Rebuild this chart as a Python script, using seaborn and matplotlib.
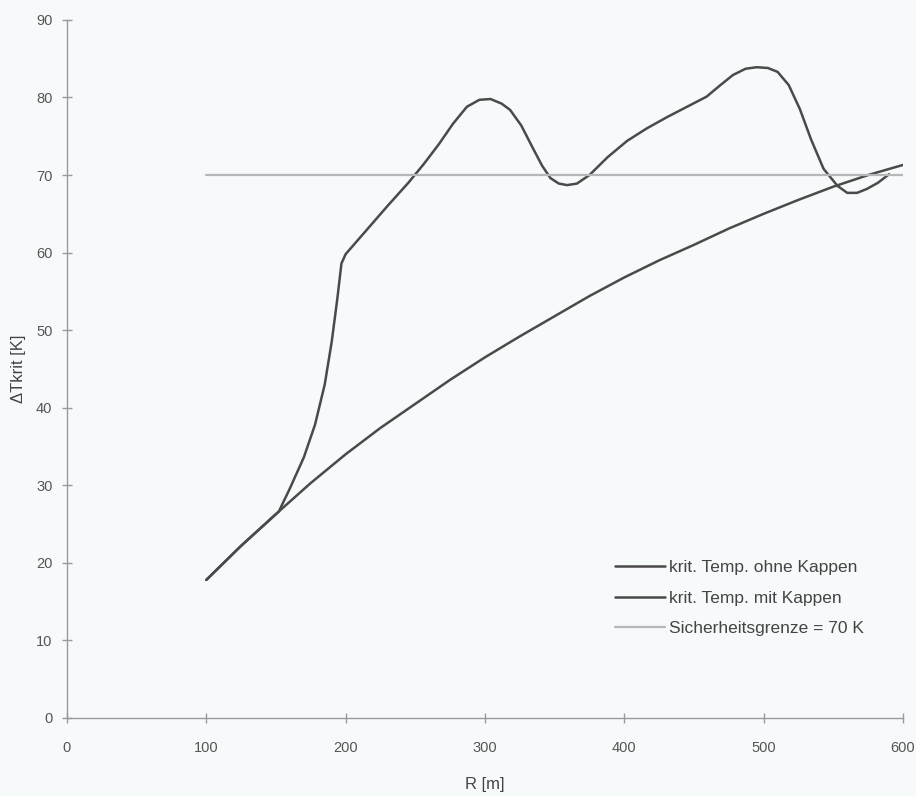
import matplotlib
matplotlib.use("Agg")
import matplotlib.pyplot as plt
import seaborn as sns
import pandas as pd

# --- data ---
r_ohne = [100, 125, 150, 175, 200, 225, 250, 275, 300, 325, 350, 375, 400,
          425, 450, 475, 500, 525, 550, 575, 600]
t_ohne = [17.8, 22.2, 26.3, 30.3, 34.0, 37.4, 40.5, 43.6, 46.5, 49.2, 51.8,
          54.4, 56.8, 59.0, 61.0, 63.1, 65.0, 66.8, 68.5, 70.0, 71.3]

r_mit = [100, 125, 152, 160, 170, 178, 185, 190, 194, 197, 200, 215, 230,
         245, 256, 267, 277, 287, 296, 304, 312, 318, 326, 334, 341, 347,
         353, 359, 366, 375, 388, 402, 416, 431, 445, 459, 469, 478, 487,
         495, 503, 510, 518, 526, 534, 543, 553, 560, 567, 574, 582, 590]
t_mit = [17.8, 22.2, 26.6, 29.6, 33.6, 37.8, 43.0, 48.5, 54.0, 58.6, 59.8,
         62.9, 66.0, 69.0, 71.4, 74.0, 76.6, 78.8, 79.7, 79.8, 79.2, 78.4,
         76.4, 73.6, 71.2, 69.6, 68.9, 68.7, 68.9, 70.0, 72.3, 74.4, 76.0,
         77.5, 78.8, 80.1, 81.6, 82.9, 83.7, 83.9, 83.8, 83.3, 81.6, 78.5,
         74.6, 70.8, 68.6, 67.7, 67.7, 68.2, 69.0, 70.1]

grenze_r = [100, 600]
grenze_t = [70, 70]

labels = ["krit. Temp. ohne Kappen", "krit. Temp. mit Kappen",
          "Sicherheitsgrenze = 70 K"]
xticks = [0, 100, 200, 300, 400, 500, 600]
yticks = [0, 10, 20, 30, 40, 50, 60, 70, 80, 90]

df_ohne = pd.DataFrame({"R": r_ohne, "T": t_ohne})
df_mit = pd.DataFrame({"R": r_mit, "T": t_mit})
df_gr = pd.DataFrame({"R": grenze_r, "T": grenze_t})

sns.set_style("white")
plt.rcParams["font.family"] = ["Liberation Sans", "DejaVu Sans"]

bg = "#f7fafa"
fig = plt.figure(figsize=(9.16, 7.96), dpi=100, facecolor=bg)
ax = fig.add_axes([0.0731, 0.098, 0.9127, 0.877])
ax.set_facecolor(bg)

dark = "#4a4a4a"
light = "#b4b8b8"
sns.lineplot(data=df_ohne, x="R", y="T", ax=ax, color=dark, lw=1.8,
             label=labels[0], sort=False)
sns.lineplot(data=df_mit, x="R", y="T", ax=ax, color=dark, lw=1.8,
             label=labels[1], sort=False)
sns.lineplot(data=df_gr, x="R", y="T", ax=ax, color=light, lw=1.6,
             label=labels[2], sort=False)

ax.set_xlim(0, 600)
ax.set_ylim(0, 90)
ax.set_xticks(xticks)
ax.set_yticks(yticks)
for s in ["top", "right"]:
    ax.spines[s].set_visible(False)
for s in ["left", "bottom"]:
    ax.spines[s].set_color("#9a9a9a")
    ax.spines[s].set_linewidth(1.0)
ax.tick_params(axis="both", direction="inout", length=7, width=1.0,
               color="#9a9a9a", labelcolor="#555555", labelsize=10.5,
               left=True, bottom=True)
ax.tick_params(axis="x", pad=13)
ax.tick_params(axis="y", pad=7)
ax.set_xlabel("R [m]", fontsize=12, color="#444444", labelpad=16)
ax.set_ylabel("ΔTkrit [K]", fontsize=12, color="#444444", labelpad=7)

leg = ax.legend(loc="upper left", bbox_to_anchor=(0.6555, 0.226),
                frameon=False, fontsize=12.5, handlelength=2.9,
                handletextpad=0.2, labelspacing=0.88,
                borderaxespad=0, borderpad=0)
for t in leg.get_texts():
    t.set_color("#444444")

fig.savefig("out.png", dpi=100, facecolor=bg)
